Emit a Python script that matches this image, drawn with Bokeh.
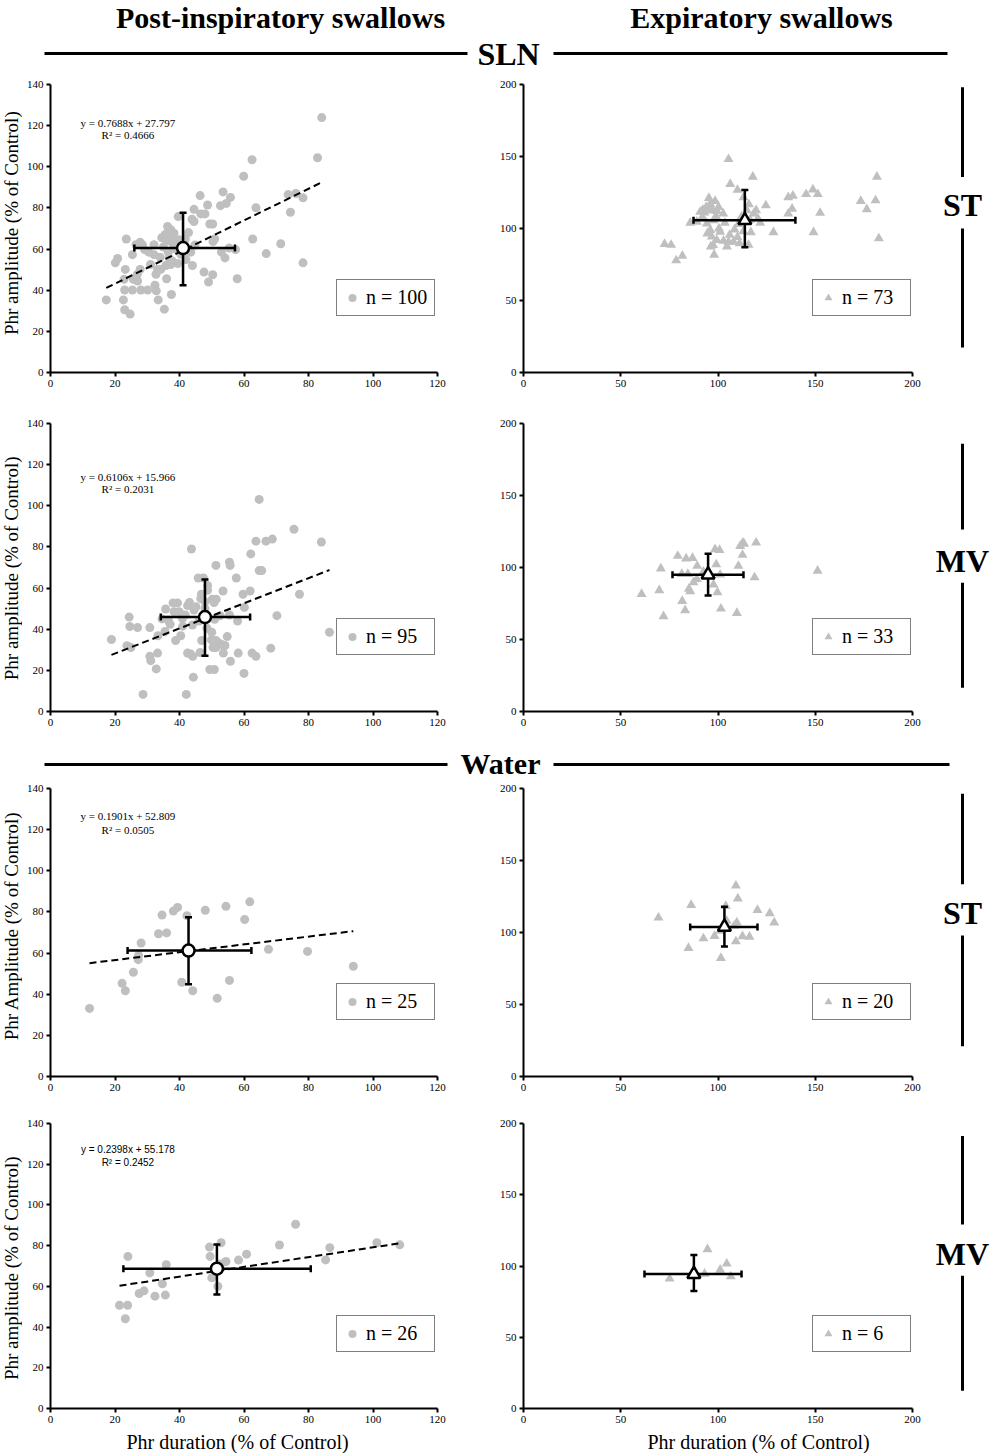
import numpy as np
from bokeh.plotting import figure
from bokeh.layouts import column, row
from bokeh.models import Range1d, FixedTicker, Legend, LegendItem, Label
from bokeh.core.properties import value
from bokeh.embed import file_html
from bokeh.resources import INLINE

# ---------------- DATA ----------------
# SLN, post-inspiratory ST (n = 100)
sln_st_ins_x = [84.1, 82.8, 62.5, 59.9, 73.7, 76.1, 78.3, 74.4, 63.7, 78.3, 71.4, 66.9, 62.7, 57.9, 54.1, 55.4, 57.4,
                46.4, 53.5, 55.8, 52.7, 54.5, 48.7, 44.5, 46.6, 47.9, 43.9, 44.5, 49.4, 50.3, 50.4, 50.9, 47.6, 50.3,
                49.0, 39.6, 36.3, 37.3, 38.3, 35.5, 34.5, 36.0, 37.5, 38.5, 39.8, 41.2, 23.5, 26.5, 27.8, 29.2, 25.4,
                32.1, 32.1, 20.8, 20.1, 23.2, 27.8, 26.9, 25.7, 22.8, 33.2, 32.7, 34.2, 36.0, 37.3, 37.8, 23.0, 25.4,
                28.0, 30.1, 32.4, 32.8, 33.4, 37.5, 35.3, 17.3, 22.6, 23.0, 24.7, 41.8, 42.0, 40.4, 36.5, 35.0, 38.8,
                43.5, 44.8, 34.0, 36.8, 39.5, 31.0, 27.0, 36.5, 38.0, 35.8, 44.0, 28.5, 30.5, 42.8, 53.0]
sln_st_ins_y = [123.9, 104.4, 103.4, 95.4, 86.5, 87.0, 84.9, 77.9, 80.1, 53.3, 62.6, 57.8, 64.9, 45.6, 55.7, 60.5, 59.7,
                86.0, 87.8, 85.1, 81.1, 82.2, 81.4, 79.3, 77.1, 77.1, 74.5, 73.4, 72.2, 72.2, 63.7, 64.9, 48.8, 47.5,
                44.0, 75.8, 71.0, 69.4, 67.7, 67.0, 65.5, 64.0, 66.0, 64.5, 64.5, 63.0, 64.9, 62.1, 63.3, 59.7, 57.3,
                62.1, 57.3, 55.4, 53.3, 50.1, 50.1, 47.7, 45.3, 45.3, 50.1, 47.7, 50.1, 45.6, 52.5, 54.1, 40.1, 40.1,
                40.1, 40.1, 42.4, 39.7, 35.3, 37.9, 30.8, 35.3, 35.3, 30.5, 28.4, 64.9, 54.9, 57.5, 58.5, 61.0, 60.0,
                58.5, 62.0, 56.0, 55.5, 53.0, 52.5, 44.5, 68.5, 62.5, 52.0, 52.0, 62.0, 58.5, 68.0, 58.5]
# SLN, post-inspiratory MV (n = 95)
sln_mv_ins_x = [64.7, 75.5, 63.7, 66.8, 68.8, 84.0, 43.7, 62.1, 55.5, 55.7, 51.3, 64.7, 65.5, 57.6, 45.8, 47.4, 48.7,
                48.7, 53.5, 59.7, 61.9, 77.2, 46.6, 50.2, 51.4, 50.7, 60.1, 70.2, 86.5, 43.1, 38.0, 39.4, 35.7, 38.3,
                39.9, 41.8, 40.9, 44.5, 45.1, 34.6, 37.1, 35.5, 33.3, 40.4, 38.8, 24.4, 24.6, 27.0, 30.8, 18.9, 23.7,
                24.9, 33.2, 30.8, 31.1, 32.8, 28.7, 42.1, 44.3, 42.5, 43.5, 44.1, 46.4, 46.9, 49.9, 51.3, 52.3, 50.4,
                51.3, 53.3, 54.1, 54.8, 53.6, 58.2, 62.5, 63.7, 55.8, 49.4, 50.8, 60.0, 68.3, 47.9, 47.9, 50.9, 55.5,
                52.6, 48.5, 46.0, 44.0, 50.0, 42.5, 36.5, 46.8, 58.0, 41.0]
sln_mv_ins_y = [103.1, 88.6, 82.8, 82.8, 83.8, 82.4, 79.0, 76.6, 72.6, 71.0, 71.0, 68.5, 68.5, 64.9, 64.9, 64.9, 61.3,
                58.9, 58.6, 57.0, 58.6, 57.0, 54.9, 54.6, 54.6, 53.0, 50.6, 46.6, 38.5, 53.0, 52.8, 52.8, 49.8, 48.5,
                48.5, 46.9, 45.3, 49.3, 50.9, 45.0, 42.4, 38.9, 36.8, 36.8, 34.5, 45.9, 41.3, 40.8, 40.8, 35.0, 32.0,
                31.1, 28.4, 26.8, 24.7, 20.7, 8.3, 8.3, 16.7, 28.4, 27.9, 26.8, 28.7, 34.5, 34.8, 34.5, 33.2, 31.1,
                31.1, 32.4, 32.1, 36.4, 28.4, 28.4, 28.4, 26.8, 24.4, 20.4, 20.4, 18.5, 30.8, 53.3, 50.1, 44.8, 46.9,
                46.6, 40.5, 44.0, 42.0, 38.5, 51.5, 44.5, 57.0, 44.0, 41.5]
# Water, post-inspiratory ST (n = 25)
wat_st_ins_x = [12.1, 22.2, 23.2, 25.7, 27.2, 27.3, 28.1, 33.5, 36.0, 34.6, 38.1, 39.4, 42.3, 40.7, 44.1, 48.0, 51.7,
                54.4, 55.5, 60.2, 61.8, 67.6, 79.7, 93.9, 43.5]
wat_st_ins_y = [33.1, 45.3, 41.7, 50.7, 56.8, 58.9, 64.9, 69.4, 69.8, 78.5, 80.4, 82.2, 78.2, 45.8, 41.7, 80.8, 38.0,
                82.7, 46.7, 76.3, 84.9, 61.8, 60.8, 53.6, 62.0]
# Water, post-inspiratory MV (n = 26)
wat_mv_ins_x = [21.4, 23.9, 23.2, 24.0, 27.5, 29.0, 30.8, 32.4, 34.7, 35.6, 35.9, 49.3, 49.5, 50.0, 51.9, 52.9, 54.4,
                58.3, 60.8, 71.0, 76.0, 85.3, 86.6, 101.2, 108.3, 52.8]
wat_mv_ins_y = [50.7, 50.7, 44.1, 74.7, 56.5, 57.8, 66.6, 55.2, 61.3, 55.7, 70.6, 79.3, 74.7, 64.2, 60.0, 81.4, 72.2,
                72.9, 75.8, 80.3, 90.5, 73.0, 79.0, 81.4, 80.4, 71.0]
# SLN, expiratory ST (n = 73)
sln_st_exp_x = [105.4, 106.3, 117.9, 110.0, 181.7, 148.8, 151.3, 145.3, 138.5, 136.1, 173.4, 181.0, 176.5, 138.1, 136.1,
                152.5, 124.6, 119.6, 118.3, 115.9, 114.8, 113.1, 95.3, 98.5, 100.3, 96.0, 94.0, 92.2, 90.8, 93.0, 95.5,
                97.0, 99.5, 102.7, 121.7, 128.5, 149.1, 182.7, 85.7, 89.1, 94.3, 97.7, 96.0, 101.1, 96.8, 99.4, 102.8,
                105.4, 108.0, 104.6, 111.1, 115.7, 108.5, 116.9, 96.3, 98.0, 72.5, 75.9, 78.5, 81.7, 92.0, 99.0, 103.5,
                110.5, 112.0, 116.5, 94.5, 100.5, 106.0, 110.0, 120.5, 97.5, 113.0]
sln_st_exp_y = [148.1, 130.9, 135.9, 126.8, 135.9, 127.0, 123.8, 123.8, 122.7, 121.7, 119.0, 119.5, 113.3, 113.7, 110.3,
                110.8, 116.0, 112.6, 110.3, 116.7, 112.6, 121.7, 121.1, 119.0, 114.9, 117.0, 115.0, 113.0, 111.5, 111.0,
                112.5, 113.5, 112.0, 110.3, 103.9, 97.3, 97.3, 93.1, 103.9, 104.6, 103.4, 105.7, 98.9, 97.7, 94.3, 92.0,
                91.5, 90.8, 90.8, 87.4, 89.7, 88.6, 99.3, 97.3, 87.4, 81.7, 89.2, 88.6, 77.8, 81.0, 108.0, 108.5, 104.0,
                103.0, 108.0, 106.0, 96.5, 100.0, 95.5, 94.0, 107.0, 88.5, 98.0]
# SLN, expiratory MV (n = 33)
sln_mv_exp_x = [60.7, 69.8, 70.6, 72.0, 79.3, 81.6, 83.1, 83.6, 86.9, 89.3, 84.5, 85.0, 85.7, 87.4, 89.1, 98.5, 100.8,
                99.1, 99.7, 101.5, 97.7, 101.1, 110.5, 111.4, 112.8, 113.4, 112.6, 109.7, 119.6, 118.8, 151.2, 81.4, 92.5]
sln_mv_exp_y = [81.5, 84.2, 99.3, 66.1, 108.0, 76.7, 70.3, 106.2, 106.6, 101.1, 95.4, 85.1, 83.5, 89.7, 92.0, 112.6,
                112.1, 102.1, 82.8, 71.4, 88.1, 95.0, 101.1, 114.9, 117.2, 116.5, 108.7, 68.4, 117.2, 93.1, 97.7, 95.4,
                97.0]
# Water, expiratory ST (n = 20)
wat_st_exp_x = [69.4, 86.2, 84.8, 92.5, 98.2, 101.5, 104.0, 109.2, 110.2, 109.7, 108.3, 109.2, 112.6, 116.2, 120.3,
                126.6, 128.9, 103.7, 104.5, 101.1]
wat_st_exp_y = [110.3, 119.0, 89.2, 95.9, 97.5, 82.2, 118.3, 132.5, 123.6, 106.9, 104.6, 93.8, 97.3, 97.0, 115.6,
                113.3, 106.9, 104.6, 108.0, 101.1]
# Water, expiratory MV (n = 6)
wat_mv_exp_x = [75.1, 94.6, 93.1, 101.1, 104.5, 106.6]
wat_mv_exp_y = [91.1, 111.7, 94.5, 97.3, 101.6, 92.7]

# Means and error-bar limits (x low, x high, y low, y high)
sln_st_ins_mean = [41.1, 60.5]; sln_st_ins_err = [26.0, 57.2, 42.4, 77.7]
sln_mv_ins_mean = [47.9, 45.9]; sln_mv_ins_err = [34.2, 61.9, 27.1, 64.2]
wat_st_ins_mean = [42.8, 61.2]; wat_st_ins_err = [23.9, 62.3, 44.8, 77.4]
wat_mv_ins_mean = [51.6, 68.7]; wat_mv_ins_err = [22.6, 80.7, 56.0, 80.6]
sln_st_exp_mean = [113.8, 105.7]; sln_st_exp_err = [87.4, 139.8, 87.0, 126.8]
sln_mv_exp_mean = [94.9, 95.0]; sln_mv_exp_err = [76.6, 113.1, 80.5, 109.6]
wat_st_exp_mean = [103.3, 103.9]; wat_st_exp_err = [85.7, 120.3, 90.2, 117.8]
wat_mv_exp_mean = [87.6, 94.3]; wat_mv_exp_err = [62.2, 112.1, 82.4, 107.8]

# Linear fits (slope, intercept) and printed R²
fit_slopes = [0.7688, 0.6106, 0.1901, 0.2398]
fit_intercepts = [27.797, 15.966, 52.809, 55.178]
fit_r2 = ["0.4666", "0.2031", "0.0505", "0.2452"]

n_ins = [100, 95, 25, 26]
n_exp = [73, 33, 20, 6]

ins_xticks = [0, 20, 40, 60, 80, 100, 120]
ins_yticks = [0, 20, 40, 60, 80, 100, 120, 140]
exp_xticks = [0, 50, 100, 150, 200]
exp_yticks = [0, 50, 100, 150, 200]

col_titles = ["Post-inspiratory swallows", "Expiratory swallows"]
section_titles = ["SLN", "Water"]
row_tags = ["ST", "MV", "ST", "MV"]
ylabels = ["Phr amplitude (% of Control)", "Phr amplitude (% of Control)",
           "Phr Amplitude (% of Control)", "Phr amplitude (% of Control)"]
xlabel = "Phr duration (% of Control)"

# ---------------- STYLE / LAYOUT ----------------
SERIF = "Liberation Serif"
GRAY = "#BFBFBF"
W_YLAB, W_LEFT, W_RIGHT, W_SIDE = 22, 448, 454, 72
TOTAL_W = W_YLAB + W_LEFT + W_RIGHT + W_SIDE   # 996

row_top = [76, 400, 781, 1106]       # page y of each row figure
row_bt = [8, 23, 7, 17]
row_F = [288, 288, 288, 285]
row_bb = [28, 29, 30, 20]
# side bracket in page y: (seg1 top, seg1 bottom, seg2 top, seg2 bottom, text centre)
side_geom = [(79, 180, 238, 372, 211), (424, 525, 588, 712, 562),
             (787, 889, 947, 1072, 922), (1120, 1220, 1278, 1408, 1253)]
eq_pos = [(121.5, 115.4), (114.2, 108.2), (126.5, 120.0), (127.3, 120.9)]
eq_fonts = [(SERIF, "11px"), (SERIF, "11px"), (SERIF, "11px"), ("Liberation Sans", "10px")]


def deco_fig(w, h):
    f = figure(width=w, height=h, x_range=Range1d(0, w), y_range=Range1d(0, h),
               output_backend="svg", toolbar_location=None, min_border=0,
               min_border_left=0, min_border_right=0, min_border_top=0, min_border_bottom=0,
               x_axis_type=None, y_axis_type=None)
    f.outline_line_color = None
    f.background_fill_color = "white"
    f.border_fill_color = "white"
    return f


def style_axes(p):
    for ax in [p.xaxis[0], p.yaxis[0]]:
        ax.axis_line_width = 2
        ax.axis_line_color = "black"
        ax.major_tick_line_width = 2
        ax.major_tick_line_color = "black"
        ax.major_tick_out = 4
        ax.major_tick_in = 0
        ax.minor_tick_line_color = None
        ax.major_label_text_font = SERIF
        ax.major_label_text_font_size = "11px"
        ax.major_label_text_color = "black"
        ax.major_label_standoff = 3


def make_plot(width, bl, br, bt, F, bb, xmax, ymax, xticks, yticks, px, py, marker, msize):
    p = figure(width=width, height=bt + F + bb, x_range=Range1d(0, xmax), y_range=Range1d(0, ymax),
               output_backend="svg", toolbar_location=None,
               min_border_left=bl, min_border_right=br, min_border_top=bt, min_border_bottom=bb)
    p.outline_line_color = None
    p.grid.visible = False
    p.background_fill_color = "white"
    p.border_fill_color = "white"
    p.xaxis.ticker = FixedTicker(ticks=xticks)
    p.yaxis.ticker = FixedTicker(ticks=yticks)
    style_axes(p)
    r = p.scatter(px, py, marker=marker, size=msize, fill_color=GRAY, line_color=None)
    return p, r


def add_mean(p, mean, err, marker, size):
    mx, my = mean
    p.segment(x0=[err[0], mx], y0=[my, err[2]], x1=[err[1], mx], y1=[my, err[3]],
              line_width=2.5, line_color="black")
    p.scatter(x=[err[0], err[1]], y=[my, my], marker="dash", angle=np.pi / 2, size=7,
              line_width=2.5, line_color="black")
    p.scatter(x=[mx, mx], y=[err[2], err[3]], marker="dash", size=7,
              line_width=2.5, line_color="black")
    p.scatter(x=[mx], y=[my], marker=marker, size=size, fill_color="white",
              line_color="black", line_width=2.5)


def add_legend(p, r, n, x):
    leg = Legend(items=[LegendItem(label="n = %d" % n, renderers=[r])], location=(x, 56))
    leg.border_line_color = "black"
    leg.border_line_width = 1.5
    leg.background_fill_color = "white"
    leg.background_fill_alpha = 1
    leg.label_text_font = SERIF
    leg.label_text_font_size = "20px"
    leg.label_text_color = "black"
    leg.padding = 5
    leg.margin = 0
    leg.spacing = 0
    leg.glyph_width = 20
    leg.glyph_height = 25
    leg.label_standoff = 4
    leg.label_width = 63
    p.add_layout(leg)


ins_data = [(sln_st_ins_x, sln_st_ins_y, sln_st_ins_mean, sln_st_ins_err),
            (sln_mv_ins_x, sln_mv_ins_y, sln_mv_ins_mean, sln_mv_ins_err),
            (wat_st_ins_x, wat_st_ins_y, wat_st_ins_mean, wat_st_ins_err),
            (wat_mv_ins_x, wat_mv_ins_y, wat_mv_ins_mean, wat_mv_ins_err)]
exp_data = [(sln_st_exp_x, sln_st_exp_y, sln_st_exp_mean, sln_st_exp_err),
            (sln_mv_exp_x, sln_mv_exp_y, sln_mv_exp_mean, sln_mv_exp_err),
            (wat_st_exp_x, wat_st_exp_y, wat_st_exp_mean, wat_st_exp_err),
            (wat_mv_exp_x, wat_mv_exp_y, wat_mv_exp_mean, wat_mv_exp_err)]

rows = []
for i in range(4):
    bt, F, bb = row_bt[i], row_F[i], row_bb[i]
    h = bt + F + bb
    top = row_top[i]

    # y label column
    yl = deco_fig(W_YLAB, h)
    yl.text(x=[11], y=[bb + F / 2 - 4], text=[ylabels[i]], angle=np.pi / 2, text_align="center",
            text_baseline="middle", text_font=value(SERIF), text_font_size="19px", text_color="black")

    # post-inspiratory panel
    px, py, mean, err = ins_data[i]
    pl, rl = make_plot(W_LEFT, 28, 33, bt, F, bb, 120, 140, ins_xticks, ins_yticks, px, py, "circle", 9)
    fx = [min(px), max(px)]
    fy = [fit_slopes[i] * v + fit_intercepts[i] for v in fx]
    pl.line(fx, fy, line_dash="7 4", line_width=2, line_color="black")
    add_mean(pl, mean, err, "circle", 12)
    add_legend(pl, rl, n_ins[i], 286)
    ef, es = eq_fonts[i]
    eq_text = "y = %.4fx + %.3f" % (fit_slopes[i], fit_intercepts[i])
    pl.add_layout(Label(x=24, y=eq_pos[i][0], text=eq_text, text_align="center", text_baseline="middle",
                        text_font=ef, text_font_size=es, text_color="black"))
    pl.add_layout(Label(x=24, y=eq_pos[i][1], text="R\u00b2 = " + fit_r2[i], text_align="center",
                        text_baseline="middle", text_font=ef, text_font_size=es, text_color="black"))

    # expiratory panel
    qx, qy, qmean, qerr = exp_data[i]
    pr, rr = make_plot(W_RIGHT, 53, 12, bt, F, bb, 200, 200, exp_xticks, exp_yticks, qx, qy, "triangle", 10)
    add_mean(pr, qmean, qerr, "triangle", 13)
    add_legend(pr, rr, n_exp[i], 289)

    # side bracket label
    sd = deco_fig(W_SIDE, h)
    g = side_geom[i]
    yy = [h - (v - top) for v in g]
    sd.segment(x0=[38, 38], y0=[yy[0], yy[2]], x1=[38, 38], y1=[yy[1], yy[3]],
               line_width=3, line_color="black")
    sd.text(x=[38], y=[yy[4]], text=[row_tags[i]], text_align="center", text_baseline="middle",
            text_font=value(SERIF), text_font_style="bold", text_font_size="32px", text_color="black")

    rows.append(row(yl, pl, pr, sd))

# header with column titles and the SLN section rule (page y 0..76)
hdr1 = deco_fig(TOTAL_W, 76)
hdr1.text(x=[280, 761], y=[76 - 17, 76 - 17], text=col_titles, text_align="center", text_baseline="middle",
          text_font=value(SERIF), text_font_style="bold", text_font_size="30px", text_color="black")
hdr1.segment(x0=[44, 553], y0=[76 - 53, 76 - 53], x1=[467, 947], y1=[76 - 53, 76 - 53],
             line_width=3, line_color="black")
hdr1.text(x=[508], y=[76 - 53], text=[section_titles[0]], text_align="center", text_baseline="middle",
          text_font=value(SERIF), text_font_style="bold", text_font_size="32px", text_color="black")

# Water section rule (page y 740..781)
hdr2 = deco_fig(TOTAL_W, 41)
hdr2.segment(x0=[44, 553], y0=[41 - 24, 41 - 24], x1=[447, 949], y1=[41 - 24, 41 - 24],
             line_width=3, line_color="black")
hdr2.text(x=[500], y=[41 - 23], text=[section_titles[1]], text_align="center", text_baseline="middle",
          text_font=value(SERIF), text_font_style="bold", text_font_size="30px", text_color="black")

# footer with the x-axis titles (page y 1428..1453)
foot = deco_fig(TOTAL_W, 25)
foot.text(x=[237, 758], y=[25 - 13, 25 - 13], text=[xlabel, xlabel], text_align="center", text_baseline="middle",
          text_font=value(SERIF), text_font_size="20px", text_color="black")

layout = column(hdr1, rows[0], rows[1], hdr2, rows[2], rows[3], foot)

open("out.html", "w").write(file_html(layout, INLINE))
